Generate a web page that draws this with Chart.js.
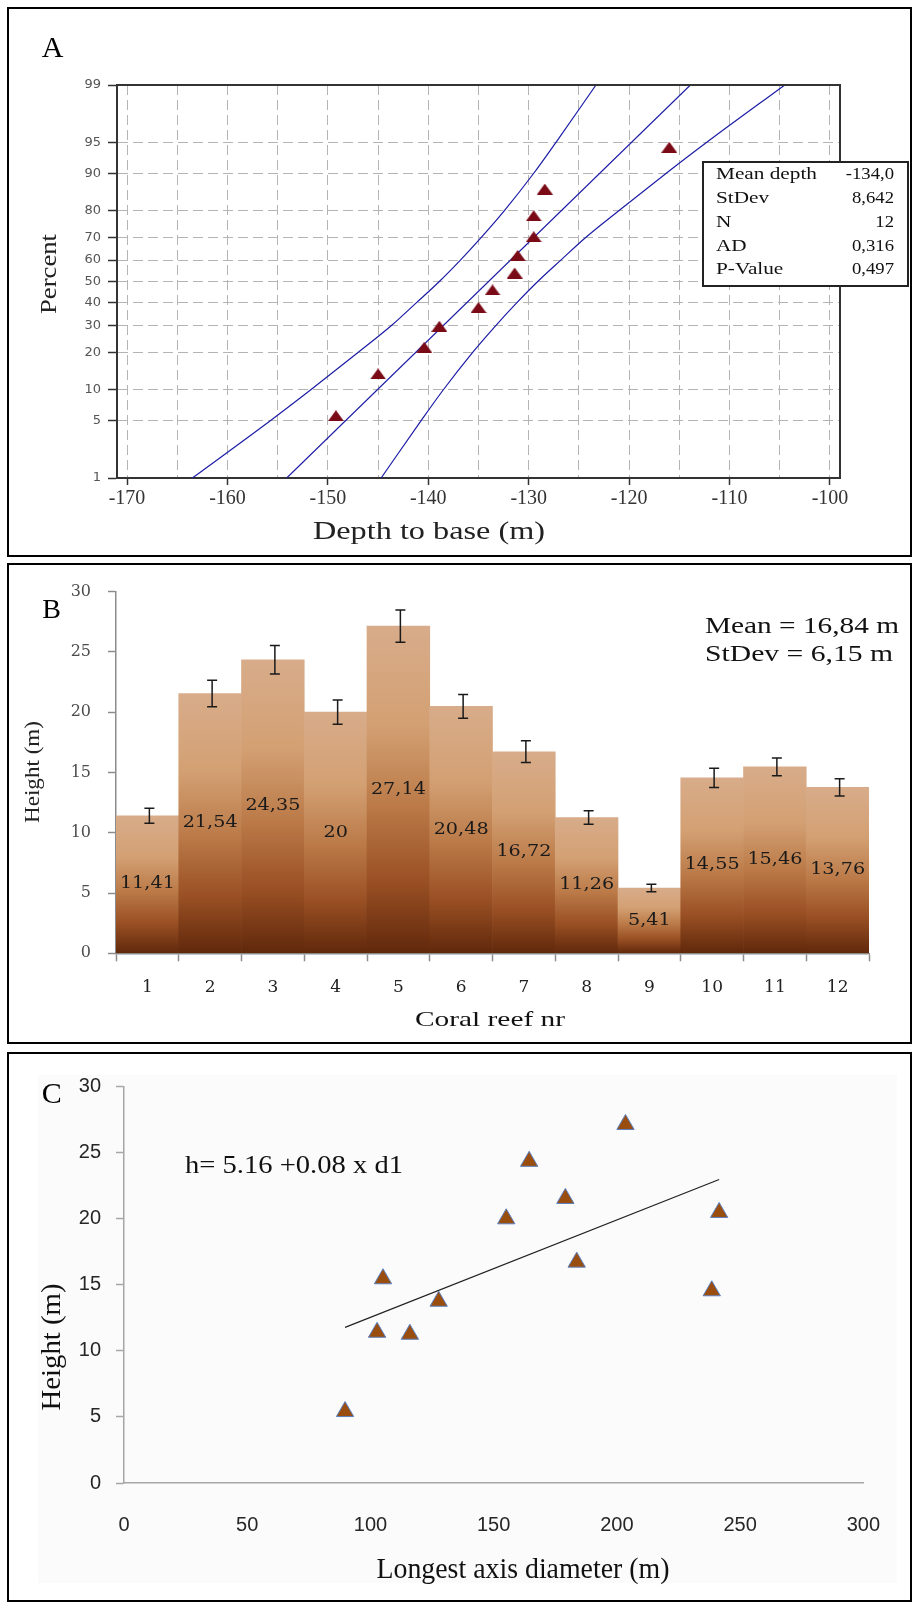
<!DOCTYPE html>
<html>
<head>
<meta charset="utf-8">
<title>Coral reefs - depth and height</title>
<script src="https://cdn.jsdelivr.net/npm/chart.js@4.4.1/dist/chart.umd.min.js"></script>
<style>
  html, body { margin: 0; padding: 0; background: #fff; }
  body { position: relative; width: 913px; height: 1604px; overflow: hidden; }
  .panel { position: absolute; left: 7px; width: 905px; border: 2px solid #000; box-sizing: border-box; }
  canvas { position: absolute; left: 9px; }
</style>
</head>
<body>
<div class="panel" style="top:7px;height:550px"></div>
<div class="panel" style="top:563px;height:481px"></div>
<div class="panel" style="top:1052px;height:550px"></div>
<canvas id="chart-a" width="901" height="546" style="top:9px"></canvas>
<canvas id="chart-b" width="901" height="477" style="top:565px"></canvas>
<canvas id="chart-c" width="901" height="546" style="top:1054px"></canvas>
<script>
// A - normal probability plot, depth to base
let depth_values = [-149.2, -145.0, -140.4, -138.9, -135.0, -133.6, -131.4, -131.1, -129.5, -129.5, -128.4, -116.0];
let depth_percent = [5.6, 13.7, 21.8, 29.8, 37.9, 46.0, 54.0, 62.1, 70.2, 78.2, 86.3, 94.4];
let fit_percent = [1, 99];
let fit_depth = [-154.1, -113.9];
let band_percent = [1, 5, 10, 20, 30, 40, 50, 60, 70, 80, 90, 95, 99];
let band_lower = [-163.5, -155.7, -151.7, -147.0, -143.7, -141.2, -138.9, -136.8, -134.7, -132.4, -129.5, -127.3, -123.3];
let band_upper = [-144.7, -140.7, -138.5, -135.6, -133.3, -131.2, -129.1, -126.8, -124.3, -121.0, -116.3, -112.3, -104.5];
let percent_ticks = [1, 5, 10, 20, 30, 40, 50, 60, 70, 80, 90, 95, 99];
let depth_ticks = [-170, -165, -160, -155, -150, -145, -140, -135, -130, -125, -120, -115, -110, -105, -100];
let stat_names = ["Mean depth", "StDev", "N", "AD", "P-Value"];
let stat_values = ["-134,0", "8,642", "12", "0,316", "0,497"];

// B - height of each reef
let reef_nr = ["1", "2", "3", "4", "5", "6", "7", "8", "9", "10", "11", "12"];
let reef_height = [11.41, 21.54, 24.35, 20, 27.14, 20.48, 16.72, 11.26, 5.41, 14.55, 15.46, 13.76];
let reef_error = [0.62, 1.1, 1.18, 1.0, 1.34, 0.99, 0.9, 0.56, 0.31, 0.79, 0.73, 0.72];
let height_ticks = [0, 5, 10, 15, 20, 25, 30];
let height_stats = ["Mean = 16,84 m", "StDev = 6,15 m"];

// C - height against longest axis diameter
let reef_diameter = [102.7, 179.1, 164.4, 155.1, 203.5, 241.5, 183.7, 116.0, 89.7, 238.5, 105.1, 127.7];
let trend_diameter = [89.7, 241.5];
let trend_height = [11.78, 22.98];
let diameter_ticks = [0, 50, 100, 150, 200, 250, 300];

const serif = "'Liberation Serif', 'Times New Roman', serif";

//inverse normal cdf (Acklam), used by the probability axis
function probit(p) {
  const a = [-3.969683028665376e+01, 2.209460984245205e+02, -2.759285104469687e+02, 1.383577518672690e+02, -3.066479806614716e+01, 2.506628277459239e+00];
  const b = [-5.447609879822406e+01, 1.615858368580409e+02, -1.556989798598866e+02, 6.680131188771972e+01, -1.328068155288572e+01];
  const c = [-7.784894002430293e-03, -3.223964580411365e-01, -2.400758277161838e+00, -2.549671664208105e+00, 4.374664141464968e+00, 2.938163982698783e+00];
  const d = [7.784695709041462e-03, 3.224671290700398e-01, 2.445134137142996e+00, 3.754408661907416e+00];
  let q, r;
  if (p < 0.02425) {
    q = Math.sqrt(-2 * Math.log(p));
    return (((((c[0]*q+c[1])*q+c[2])*q+c[3])*q+c[4])*q+c[5]) / ((((d[0]*q+d[1])*q+d[2])*q+d[3])*q+1);
  }
  if (p > 1 - 0.02425) {
    q = Math.sqrt(-2 * Math.log(1 - p));
    return -(((((c[0]*q+c[1])*q+c[2])*q+c[3])*q+c[4])*q+c[5]) / ((((d[0]*q+d[1])*q+d[2])*q+d[3])*q+1);
  }
  q = p - 0.5;
  r = q * q;
  return (((((a[0]*r+a[1])*r+a[2])*r+a[3])*r+a[4])*r+a[5])*q / (((((b[0]*r+b[1])*r+b[2])*r+b[3])*r+b[4])*r+1);
}

//percent axis spaced like a normal probability paper
class ProbabilityScale extends Chart.LinearScale {
  determineDataLimits() {
    this.min = this.options.min;
    this.max = this.options.max;
  }
  buildTicks() {
    return percent_ticks.map(v => ({value: v}));
  }
  getPixelForValue(value) {
    const z0 = probit(this.min / 100), z1 = probit(this.max / 100);
    return this.getPixelForDecimal((probit(value / 100) - z0) / (z1 - z0));
  }
  getValueForPixel(pixel) {
    return this.min + this.getDecimalForPixel(pixel) * (this.max - this.min);
  }
}
ProbabilityScale.id = "probability";
Chart.register(ProbabilityScale);

//text helper, some labels in the picture are stretched
function text(ctx, str, x, y, size, opts) {
  opts = opts || {};
  ctx.save();
  ctx.font = size + "px " + (opts.family || serif);
  ctx.fillStyle = opts.color || "#111";
  ctx.textAlign = opts.align || "center";
  ctx.textBaseline = "middle";
  ctx.translate(x, y);
  if (opts.rotate) ctx.rotate(opts.rotate);
  if (opts.width) ctx.scale(opts.width / ctx.measureText(str).width, 1);
  else if (opts.sx) ctx.scale(opts.sx, 1);
  ctx.fillText(str, 0, 0);
  ctx.restore();
}

let ticksFrom = list => scale => { scale.ticks = list.map(v => ({value: v})); };

// ---------- A ----------
let tri = document.createElement("canvas");
tri.width = 16; tri.height = 11;
let tctx = tri.getContext("2d");
tctx.fillStyle = "#7a0a16";
tctx.beginPath();
tctx.moveTo(8, 0); tctx.lineTo(16, 11); tctx.lineTo(0, 11);
tctx.closePath();
tctx.fill();

const blue = "#1c1ca6";

const frameA = {
  id: "frameA",
  afterDraw(chart) {
    const {ctx, chartArea: a} = chart;
    ctx.save();
    ctx.strokeStyle = "#333";
    ctx.lineWidth = 2;
    ctx.beginPath();
    ctx.moveTo(a.left, a.top); ctx.lineTo(a.right, a.top); ctx.lineTo(a.right, a.bottom);
    ctx.stroke();
    // stats box
    ctx.fillStyle = "#fff";
    ctx.fillRect(694, 153, 205, 124);
    ctx.strokeStyle = "#222";
    ctx.strokeRect(694, 153, 205, 124);
    ctx.restore();
    stat_names.forEach((name, i) => {
      text(ctx, name, 707, 166 + i * 23.7, 17, {align: "left", sx: 1.25});
      text(ctx, stat_values[i], 885, 166 + i * 23.7, 17, {align: "right", sx: 1.1});
    });
    text(ctx, "A", 43.5, 40.3, 30, {color: "#000"});
    text(ctx, "Percent", 41, 265, 24, {rotate: -Math.PI / 2, width: 80, color: "#222"});
    text(ctx, "Depth to base (m)", 420, 523, 25, {width: 232, color: "#222"});
  }
};

let line = (xs, ys) => xs.map((x, i) => ({x: x, y: ys[i]}));
let curve = {showLine: true, pointRadius: 0, borderColor: blue, borderWidth: 1.2, cubicInterpolationMode: "monotone"};

new Chart(document.getElementById("chart-a"), {
  type: "scatter",
  data: {
    datasets: [
      { data: line(depth_values, depth_percent), pointStyle: tri, pointRadius: 6 },
      Object.assign({ data: line(band_lower, band_percent) }, curve),
      Object.assign({ data: line(fit_depth, fit_percent) }, curve),
      Object.assign({ data: line(band_upper, band_percent) }, curve),
    ]
  },
  options: {
    responsive: false,
    devicePixelRatio: 1,
    animation: false,
    layout: { autoPadding: false, padding: {left: 0, top: 76, right: 70, bottom: 0} },
    plugins: { legend: {display: false}, tooltip: {enabled: false} },
    scales: {
      x: {
        type: "linear", min: -171, max: -99,
        afterBuildTicks: ticksFrom(depth_ticks),
        afterFit: s => { s.height = 77; },
        grid: {
          color: "#b4b4b4", lineWidth: 1, tickLength: 7, tickWidth: 1.5, tickBorderDash: [],
          tickColor: c => (c.tick && c.tick.value % 10 === 0) ? "#333" : "rgba(0,0,0,0)"
        },
        border: { color: "#333", width: 2, dash: [10, 5] },
        ticks: {
          autoSkip: false, maxRotation: 0, padding: 2, color: "#333",
          font: {family: serif, size: 20},
          callback: v => v % 10 === 0 ? v : ""
        }
      },
      y: {
        type: "probability", min: 1, max: 99,
        afterFit: s => { s.width = 108; },
        grid: { color: "#b4b4b4", lineWidth: 1, tickLength: 9, tickWidth: 1.5, tickColor: "#333", tickBorderDash: [] },
        border: { color: "#333", width: 2, dash: [10, 5] },
        ticks: { autoSkip: false, padding: 7, color: "#555", font: {family: "'DejaVu Sans', sans-serif", size: 13}, callback: v => v }
      }
    }
  },
  plugins: [frameA]
});

// ---------- B ----------
function barFill(c) {
  const chart = c.chart;
  if (c.type !== "data" || !chart.chartArea) return "#b8753f";
  const y = chart.scales.y;
  const top = y.getPixelForValue(c.raw), bottom = y.getPixelForValue(0);
  const g = chart.ctx.createLinearGradient(0, top, 0, bottom);
  g.addColorStop(0, "#d8ac8a");
  g.addColorStop(0.3, "#d3a073");
  g.addColorStop(0.55, "#bb7a48");
  g.addColorStop(0.78, "#9a5024");
  g.addColorStop(1, "#60280b");
  return g;
}

const barExtras = {
  id: "barExtras",
  afterDatasetsDraw(chart) {
    const {ctx} = chart;
    const y = chart.scales.y;
    chart.getDatasetMeta(0).data.forEach((bar, i) => {
      const x = bar.x + 2;
      const hi = y.getPixelForValue(reef_height[i] + reef_error[i]);
      const lo = y.getPixelForValue(reef_height[i] - reef_error[i]);
      ctx.save();
      ctx.strokeStyle = "#1a1a1a";
      ctx.lineWidth = 1.5;
      ctx.beginPath();
      ctx.moveTo(x, hi); ctx.lineTo(x, lo);
      ctx.moveTo(x - 5, hi); ctx.lineTo(x + 5, hi);
      ctx.moveTo(x - 5, lo); ctx.lineTo(x + 5, lo);
      ctx.stroke();
      ctx.restore();
      text(ctx, String(reef_height[i]).replace(".", ","), bar.x, (bar.y + bar.base) / 2, 16,
        {family: "'DejaVu Serif', serif", sx: 1.2, color: "#1a1a1a"});
    });
  },
  afterDraw(chart) {
    const ctx = chart.ctx;
    text(ctx, "B", 42.7, 46, 28, {color: "#000"});
    text(ctx, "Height (m)", 24, 207, 21, {rotate: -Math.PI / 2, width: 102, color: "#222"});
    text(ctx, "Coral reef nr", 481, 455, 21, {width: 150, color: "#111"});
    text(ctx, height_stats[0], 696, 61.7, 24, {align: "left", width: 194, color: "#111"});
    text(ctx, height_stats[1], 696, 89.3, 24, {align: "left", width: 188, color: "#111"});
  }
};

new Chart(document.getElementById("chart-b"), {
  type: "bar",
  data: {
    labels: reef_nr,
    datasets: [{
      data: reef_height,
      backgroundColor: barFill,
      borderWidth: 0,
      barPercentage: 1,
      categoryPercentage: 1
    }]
  },
  options: {
    responsive: false,
    devicePixelRatio: 1,
    animation: false,
    layout: { autoPadding: false, padding: {left: 0, top: 25, right: 41, bottom: 0} },
    plugins: { legend: {display: false}, tooltip: {enabled: false} },
    scales: {
      x: {
        afterFit: s => { s.height = 88.7; },
        grid: { offset: true, drawOnChartArea: false, tickLength: 8, color: "#8c8c8c", tickWidth: 1.5 },
        border: { color: "#8c8c8c", width: 1.5 },
        ticks: { padding: 16, color: "#222", font: {family: "'DejaVu Serif', serif", size: 17} }
      },
      y: {
        min: 0, max: 30,
        afterBuildTicks: ticksFrom(height_ticks),
        afterFit: s => { s.width = 107; },
        grid: { drawOnChartArea: false, tickLength: 8, color: "#8c8c8c", tickWidth: 1.5 },
        border: { color: "#8c8c8c", width: 1.5 },
        ticks: { padding: 17, color: "#4d4d4d", font: {family: "'DejaVu Serif', serif", size: 16} }
      }
    }
  },
  plugins: [barExtras]
});

// ---------- C ----------
const textC = {
  id: "textC",
  beforeDraw(chart) {
    const ctx = chart.ctx;
    ctx.save();
    ctx.fillStyle = "#fbfbfb";
    ctx.fillRect(29, 21, 859, 508);
    ctx.restore();
  },
  afterDraw(chart) {
    const ctx = chart.ctx;
    text(ctx, "C", 42.7, 41, 30, {color: "#000"});
    text(ctx, "Height (m)", 44, 293, 27, {rotate: -Math.PI / 2, width: 127, color: "#111"});
    text(ctx, "h= 5.16 +0.08 x d1", 176, 112, 26, {align: "left", width: 218, color: "#111"});
    text(ctx, "Longest axis diameter (m)", 514, 516, 29, {width: 293, color: "#111"});
  }
};

new Chart(document.getElementById("chart-c"), {
  type: "scatter",
  data: {
    datasets: [
      {
        data: line(reef_diameter, reef_height),
        pointStyle: "triangle", pointRadius: 10,
        backgroundColor: "#994d0f", borderColor: "#5b80c0", borderWidth: 1
      },
      { data: line(trend_diameter, trend_height), showLine: true, pointRadius: 0, borderColor: "#222", borderWidth: 1.2 }
    ]
  },
  options: {
    responsive: false,
    devicePixelRatio: 1,
    animation: false,
    layout: { autoPadding: false, padding: {left: 0, top: 32.7, right: 36, bottom: 0} },
    plugins: { legend: {display: false}, tooltip: {enabled: false} },
    scales: {
      x: {
        type: "linear", min: 0, max: 300,
        afterBuildTicks: ticksFrom(diameter_ticks),
        afterFit: s => { s.height = 117; },
        grid: { display: false, drawTicks: false },
        border: { color: "#a6a6a6", width: 1.5 },
        ticks: { padding: 30, color: "#262626", font: {family: "'Liberation Sans', sans-serif", size: 20} }
      },
      y: {
        min: 0, max: 30,
        afterBuildTicks: ticksFrom(height_ticks),
        afterFit: s => { s.width = 115; },
        grid: { drawOnChartArea: false, tickLength: 8, color: "#a6a6a6", tickWidth: 1.5 },
        border: { color: "#a6a6a6", width: 1.5 },
        ticks: { padding: 15, color: "#262626", font: {family: "'Liberation Sans', sans-serif", size: 20} }
      }
    }
  },
  plugins: [textC]
});
</script>
</body>
</html>
